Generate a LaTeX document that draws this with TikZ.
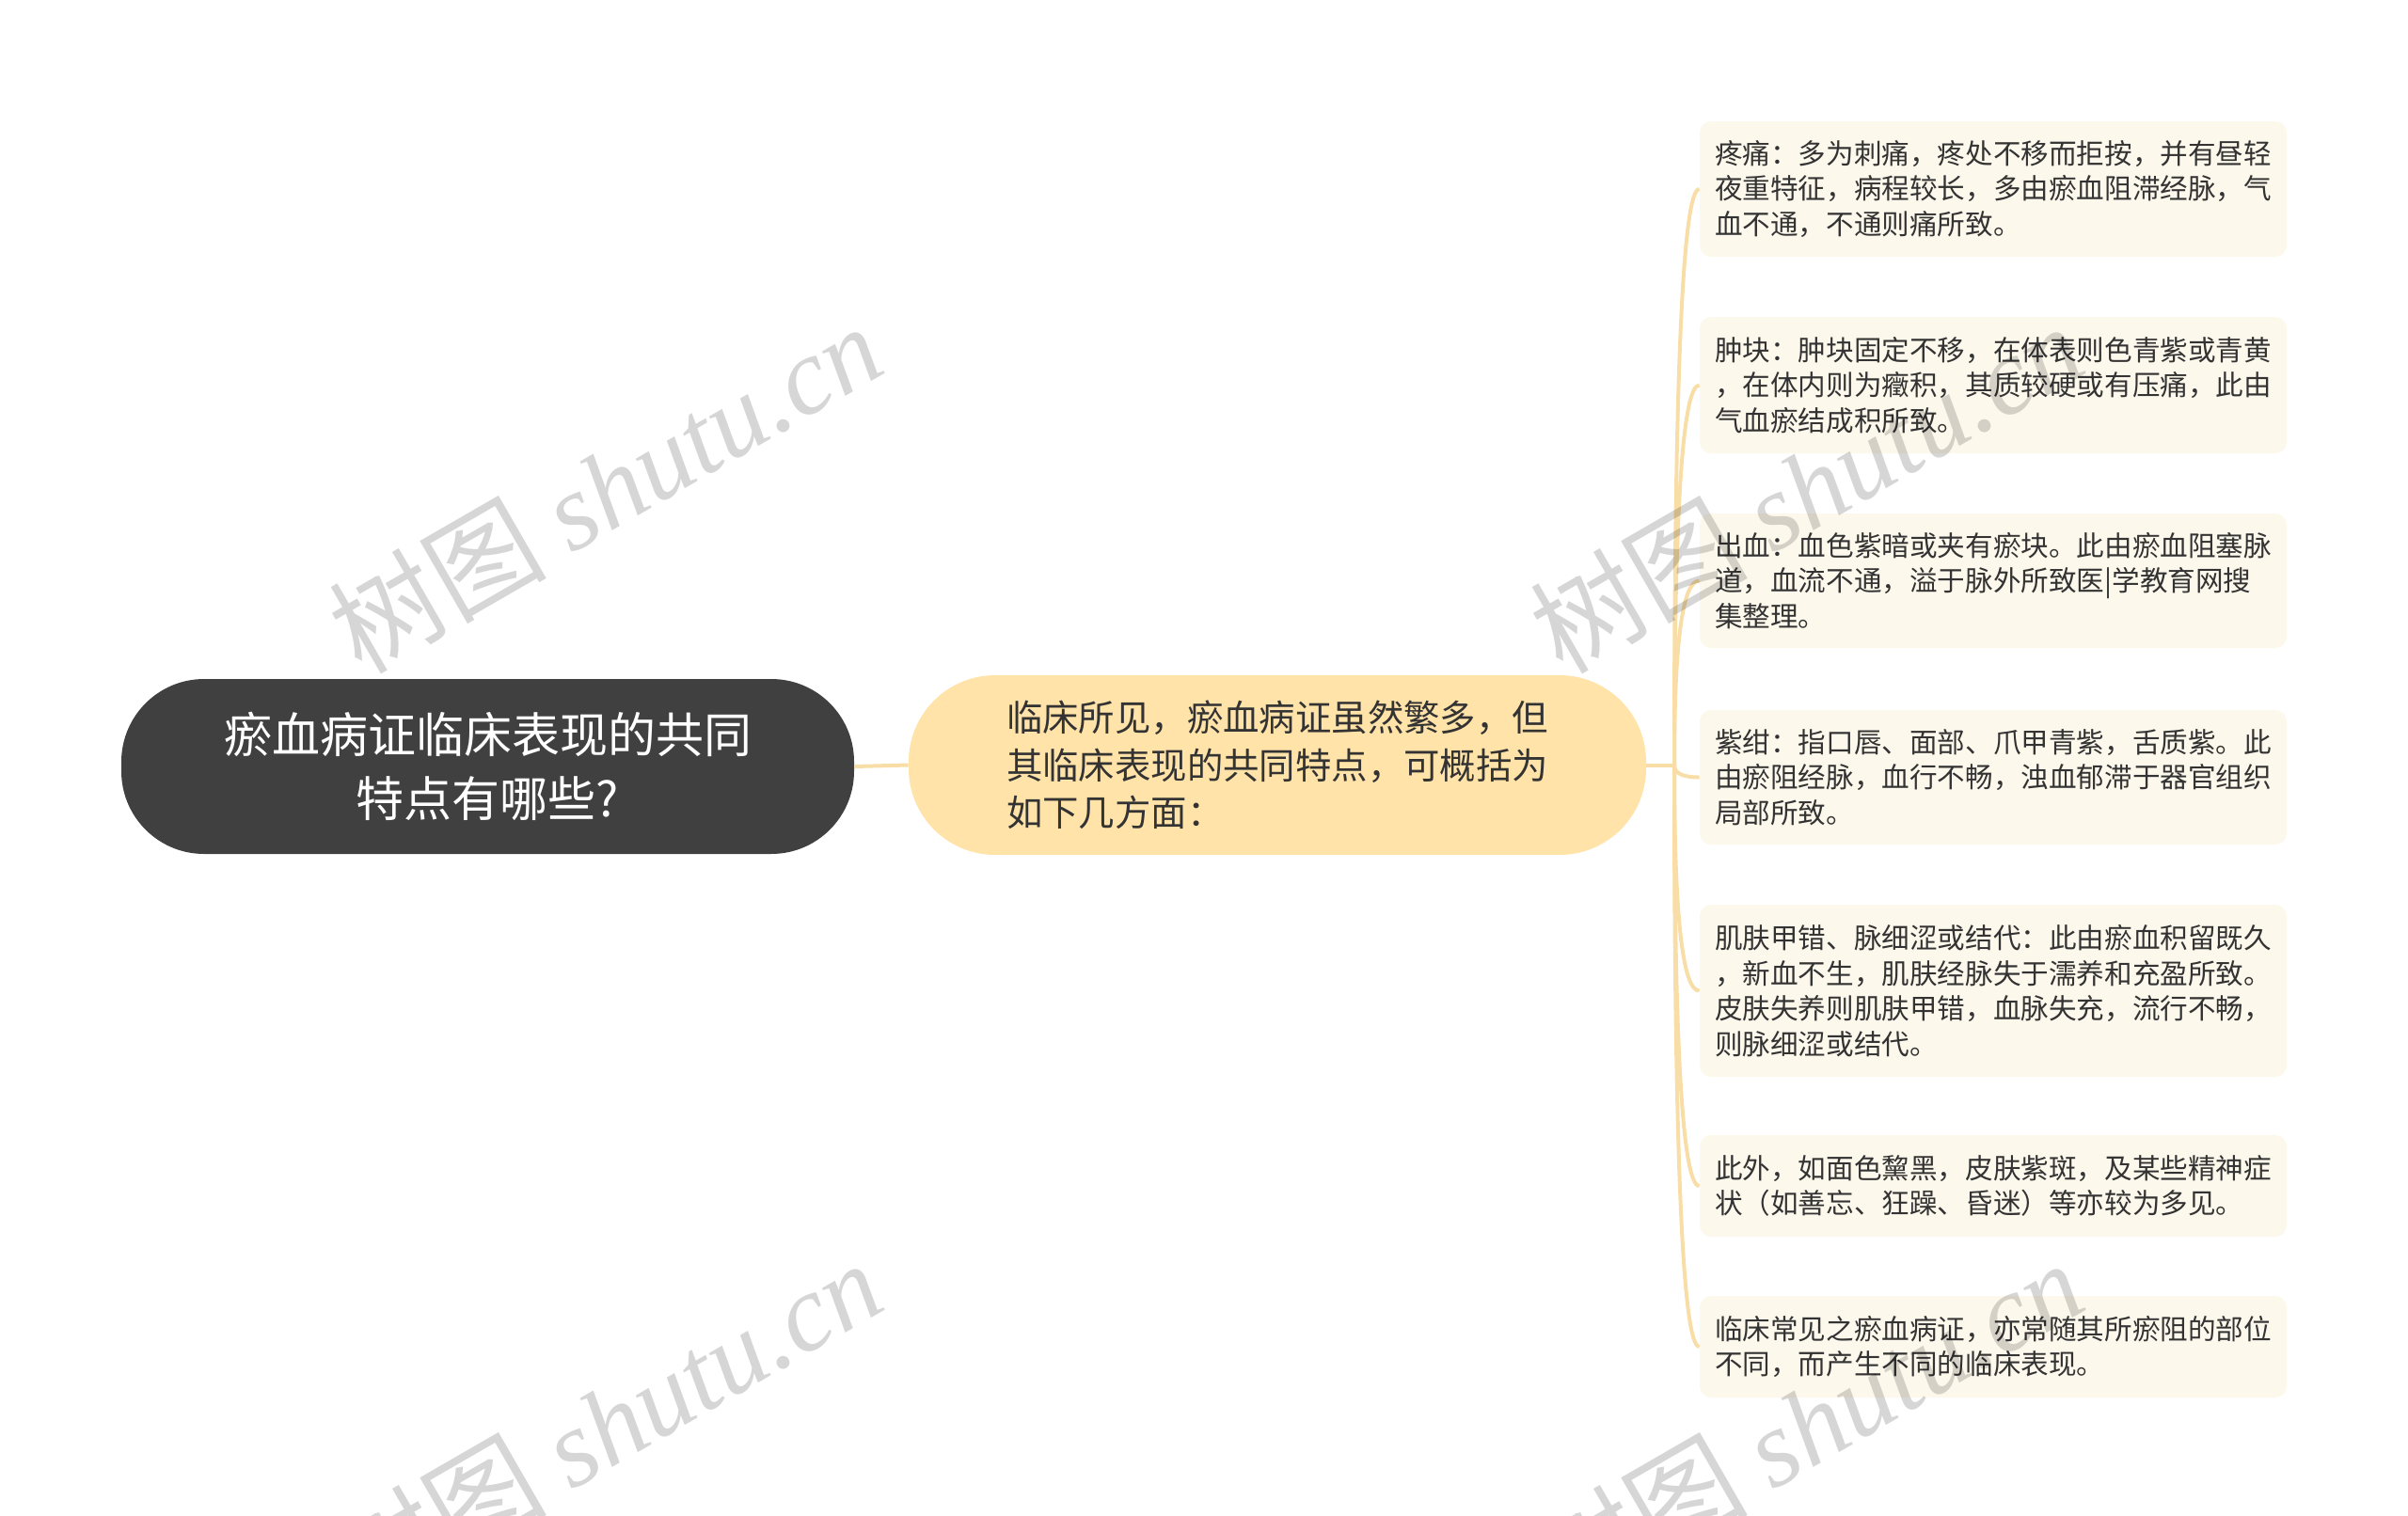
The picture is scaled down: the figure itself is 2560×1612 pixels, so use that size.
\documentclass[tikz,border=0pt]{standalone}
\usepackage{fontspec}
\setmainfont{Noto Sans CJK SC}
\newfontfamily\wmlatin{Liberation Serif}
\usetikzlibrary{calc}
\definecolor{rootfill}{HTML}{404040}
\definecolor{midfill}{HTML}{FFE3A8}
\definecolor{boxfill}{HTML}{FDF8EC}
\definecolor{linecol}{HTML}{F8DEA6}
\definecolor{txt}{HTML}{333333}
\definecolor{wm}{HTML}{D6D6D6}
\begin{document}
\begin{tikzpicture}[x=0.5pt,y=-0.5pt,
  rootnode/.style={fill=rootfill, rounded corners=44pt, minimum width=389.5pt, minimum height=93pt,
    text=white, font=\fontsize{25.5}{34}\selectfont, align=center, inner sep=0pt},
  midnode/.style={fill=midfill, rounded corners=46pt, minimum width=392pt, minimum height=95.5pt,
    text=txt, font=\fontsize{19.2}{25.3}\selectfont, align=left, inner sep=0pt},
  leaf/.style={fill=boxfill, rounded corners=6pt, minimum width=312pt, text width=296pt,
    inner xsep=8pt, inner ysep=0pt, text=txt, font=\fontsize{14.8}{18.75}\selectfont, align=left},
  conn/.style={draw=linecol, line width=2pt},
  watermark/.style={text=wm, rotate=30, font=\fontsize{58}{58}\selectfont, inner sep=0pt}
]
\useasboundingbox (0,0) rectangle (2560,1612);

\node[rootnode] (root) at (518.5,815) {瘀血病证临床表现的共同\\特点有哪些?};
\node[midnode] (mid) at (1358,813.5) {临床所见，瘀血病证虽然繁多，但\\其临床表现的共同特点，可概括为\\如下几方面：};

\node[leaf, minimum height=72pt] (b1) at (2119,201) {疼痛：多为刺痛，疼处不移而拒按，并有昼轻\\夜重特征，病程较长，多由瘀血阻滞经脉，气\\血不通，不通则痛所致。};
\node[leaf, minimum height=72.5pt] (b2) at (2119,409.5) {肿块：肿块固定不移，在体表则色青紫或青黄\\，在体内则为癥积，其质较硬或有压痛，此由\\气血瘀结成积所致。};
\node[leaf, minimum height=71.5pt] (b3) at (2119,617.5) {出血：血色紫暗或夹有瘀块。此由瘀血阻塞脉\\道，血流不通，溢于脉外所致医|学教育网搜\\集整理。};
\node[leaf, minimum height=71.5pt] (b4) at (2119,826.5) {紫绀：指口唇、面部、爪甲青紫，舌质紫。此\\由瘀阻经脉，血行不畅，浊血郁滞于器官组织\\局部所致。};
\node[leaf, minimum height=91.5pt] (b5) at (2119,1053.5) {肌肤甲错、脉细涩或结代：此由瘀血积留既久\\，新血不生，肌肤经脉失于濡养和充盈所致。\\皮肤失养则肌肤甲错，血脉失充，流行不畅，\\则脉细涩或结代。};
\node[leaf, minimum height=54pt] (b6) at (2119,1261) {此外，如面色黧黑，皮肤紫斑，及某些精神症\\状（如善忘、狂躁、昏迷）等亦较为多见。};
\node[leaf, minimum height=54pt] (b7) at (2119,1432) {临床常见之瘀血病证，亦常随其所瘀阻的部位\\不同，而产生不同的临床表现。};

\draw[conn] (root.east) -- (mid.west);
\coordinate (spine) at (1780,813.5);
\draw[conn] (mid.east) -- (spine);
\foreach \b in {b1,b2,b3,b4,b5,b6,b7}
  \draw[conn] (spine) .. controls ($(spine)!0.667!(spine |- \b.west)$) and ($(\b.west)+(-18,0)$) .. (\b.west);

\begin{scope}[blend mode=multiply]
\node[watermark] (wm1) at (643,518) {树图 {\wmlatin\itshape shutu.cn}};
\node[watermark] (wm2) at (1920,518) {树图 {\wmlatin\itshape shutu.cn}};
\node[watermark] (wm3) at (643,1514) {树图 {\wmlatin\itshape shutu.cn}};
\node[watermark] (wm4) at (1920,1514) {树图 {\wmlatin\itshape shutu.cn}};
\end{scope}
\end{tikzpicture}
\end{document}
